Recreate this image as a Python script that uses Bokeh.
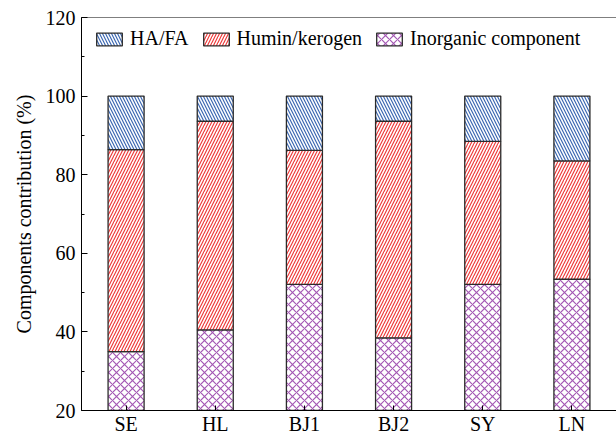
from bokeh.plotting import figure
from bokeh.models import ColumnDataSource, FactorRange, Range1d, SingleIntervalTicker, Legend, LegendItem, Span
from bokeh.embed import file_html
from bokeh.resources import INLINE

# Sample sites and the share (%) of each component
categories = ["SE", "HL", "BJ1", "BJ2", "SY", "LN"]
inorganic = [35.0, 40.5, 52.1, 38.5, 52.1, 53.4]
humin = [51.4, 53.1, 34.1, 55.1, 36.4, 30.1]
ha_fa = [13.6, 6.4, 13.8, 6.4, 11.5, 16.5]

y_ticks = [20, 40, 60, 80, 100, 120]

FONT = "Liberation Serif"

humin_top = [a + b for a, b in zip(inorganic, humin)]
ha_top = [t + c for t, c in zip(humin_top, ha_fa)]

src = ColumnDataSource(dict(
    x=categories,
    inorg_top=inorganic,
    humin_bottom=inorganic,
    humin_top=humin_top,
    ha_bottom=humin_top,
    ha_top=ha_top,
))

p = figure(
    x_range=FactorRange(factors=categories),
    y_range=Range1d(y_ticks[0], y_ticks[-1]),
    width=616, height=437,
    output_backend="svg", toolbar_location=None,
    min_border_left=81, min_border_top=17, min_border_bottom=25, min_border_right=0,
)
p.background_fill_color = "white"
p.border_fill_color = "white"
p.outline_line_color = None
p.xgrid.visible = False
p.ygrid.visible = False

# top border line of the frame
p.add_layout(Span(location=y_ticks[-1], dimension="width", line_color="black", line_width=1))

BAR_W = 0.404
EDGE = "#2b2b2b"

r_inorg = p.vbar(x="x", bottom=0, top="inorg_top", width=BAR_W, source=src,
                 fill_color="white", line_color=EDGE, line_width=1.3,
                 hatch_pattern="diagonal_cross", hatch_color="#a459b4",
                 hatch_scale=8, hatch_weight=1.2)
r_humin = p.vbar(x="x", bottom="humin_bottom", top="humin_top", width=BAR_W, source=src,
                 fill_color="white", line_color=EDGE, line_width=1.3,
                 hatch_pattern="right_diagonal_line", hatch_color="#ef3b3b",
                 hatch_scale=6, hatch_weight=1.2)
r_ha = p.vbar(x="x", bottom="ha_bottom", top="ha_top", width=BAR_W, source=src,
              fill_color="white", line_color=EDGE, line_width=1.3,
              hatch_pattern="left_diagonal_line", hatch_color="#3d69b3",
              hatch_scale=6, hatch_weight=1.2)

# Y axis
yax = p.yaxis[0]
yax.ticker = SingleIntervalTicker(interval=20, num_minor_ticks=2)
yax.axis_label = "Components contribution (%)"
yax.axis_label_text_font = FONT
yax.axis_label_text_font_size = "20px"
yax.axis_label_text_font_style = "normal"
yax.axis_label_text_color = "black"
yax.axis_label_standoff = 8
yax.major_label_text_font = FONT
yax.major_label_text_font_size = "20px"
yax.major_label_text_color = "black"
yax.major_label_standoff = 6
yax.major_tick_in = 6
yax.major_tick_out = 0
yax.minor_tick_in = 3
yax.minor_tick_out = 0
yax.axis_line_color = "black"
yax.major_tick_line_color = "black"
yax.minor_tick_line_color = "black"

# X axis
xax = p.xaxis[0]
xax.major_label_text_font = FONT
xax.major_label_text_font_size = "20px"
xax.major_label_text_color = "black"
xax.major_label_standoff = 2
xax.major_tick_in = 5
xax.major_tick_out = 0
xax.axis_line_color = "black"
xax.major_tick_line_color = "black"

legend = Legend(
    items=[
        LegendItem(label="HA/FA", renderers=[r_ha]),
        LegendItem(label="Humin/kerogen", renderers=[r_humin]),
        LegendItem(label="Inorganic component", renderers=[r_inorg]),
    ],
    orientation="horizontal",
    location=(12, 360),
    glyph_width=32, glyph_height=16,
    label_text_font=FONT, label_text_font_size="20px", label_text_color="black",
    label_standoff=5, spacing=11,
    padding=0, margin=0,
    border_line_color=None, background_fill_alpha=0,
)
p.add_layout(legend)

open("out.html", "w").write(file_html(p, INLINE))
